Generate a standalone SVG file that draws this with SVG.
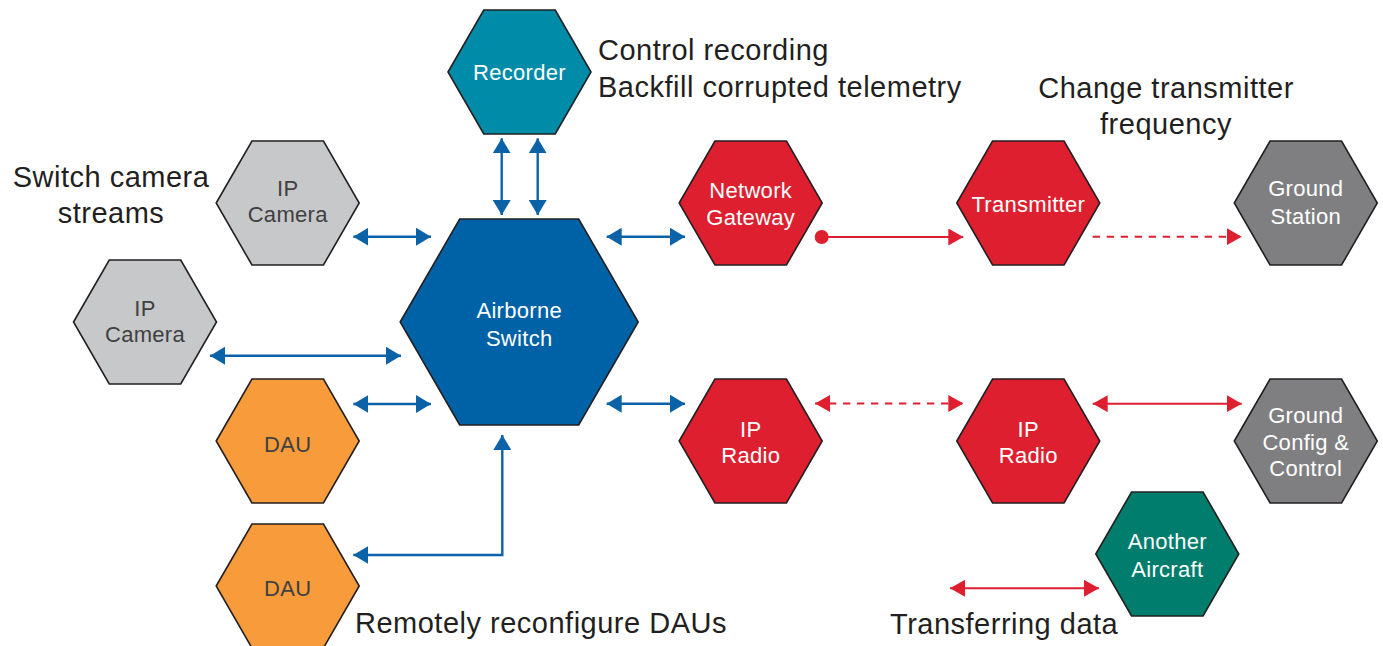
<svg xmlns="http://www.w3.org/2000/svg" width="1383" height="646" viewBox="0 0 1383 646">
<style>
.hex{stroke:#231F20;stroke-width:1.6;stroke-linejoin:miter}
.nt{font-family:"Liberation Sans",Arial,sans-serif;font-size:22px;letter-spacing:0.3px;text-anchor:middle}
.w{fill:#ffffff}
.d{fill:#404041}
.lbl{font-family:"Liberation Sans",Arial,sans-serif;font-size:29px;letter-spacing:0.5px;fill:#231F20}
.blue{stroke:#0B62A7;stroke-width:2.4;fill:none}
.red{stroke:#DD1F2F;stroke-width:2;fill:none}
.dash{stroke-dasharray:7.3 6.7}
</style>
<defs>
<marker id="ab" viewBox="0 0 15 18" refX="15" refY="9" markerWidth="15" markerHeight="18" markerUnits="userSpaceOnUse" orient="auto-start-reverse">
<path d="M0,0 L15,9 L0,18 z" fill="#0B62A7"/>
</marker>
<marker id="ar" viewBox="0 0 15 17" refX="15" refY="8.5" markerWidth="15" markerHeight="17" markerUnits="userSpaceOnUse" orient="auto-start-reverse">
<path d="M0,0 L15,8.5 L0,17 z" fill="#DD1F2F"/>
</marker>
</defs>
<rect width="1383" height="646" fill="#ffffff"/>

<g id="connectors">
<line class="blue" x1="501.7" y1="138.3" x2="501.7" y2="215" marker-start="url(#ab)" marker-end="url(#ab)"/>
<line class="blue" x1="537.7" y1="138.3" x2="537.7" y2="215" marker-start="url(#ab)" marker-end="url(#ab)"/>
<line class="blue" x1="353.3" y1="236.7" x2="431" y2="236.7" marker-start="url(#ab)" marker-end="url(#ab)"/>
<line class="blue" x1="210" y1="355.7" x2="401" y2="355.7" marker-start="url(#ab)" marker-end="url(#ab)"/>
<line class="blue" x1="353.3" y1="404" x2="431" y2="404" marker-start="url(#ab)" marker-end="url(#ab)"/>
<line class="blue" x1="606.7" y1="236.7" x2="685" y2="236.7" marker-start="url(#ab)" marker-end="url(#ab)"/>
<line class="blue" x1="606.7" y1="403.7" x2="685" y2="403.7" marker-start="url(#ab)" marker-end="url(#ab)"/>
<path class="blue" d="M353.3,555 H502.3 V435" marker-start="url(#ab)" marker-end="url(#ab)"/>
<circle cx="821.7" cy="237" r="7" fill="#DD1F2F"/>
<line class="red" x1="821.7" y1="237" x2="963.3" y2="237" marker-end="url(#ar)"/>
<line class="red dash" x1="1092.7" y1="236.7" x2="1241.7" y2="236.7" marker-end="url(#ar)"/>
<line class="red dash" x1="815" y1="403.5" x2="963.3" y2="403.5" marker-start="url(#ar)" marker-end="url(#ar)"/>
<line class="red" x1="1092.7" y1="403.7" x2="1241.7" y2="403.7" marker-start="url(#ar)" marker-end="url(#ar)"/>
<line class="red" x1="950" y1="588.3" x2="1099" y2="588.3" marker-start="url(#ar)" marker-end="url(#ar)"/>
</g>

<g id="recorder">
<polygon class="hex" fill="#008CA8" points="448,72 483.75,10 555.25,10 591,72 555.25,134 483.75,134"/>
<text class="nt w" x="519.5" y="80">Recorder</text>
</g>
<g id="ip-camera-1">
<polygon class="hex" fill="#C7C8CA" points="216.2,203 251.95,141 323.45,141 359.2,203 323.45,265 251.95,265"/>
<text class="nt d" x="287.7" y="196">IP</text>
<text class="nt d" x="287.7" y="222.3">Camera</text>
</g>
<g id="ip-camera-2">
<polygon class="hex" fill="#C7C8CA" points="73.5,322 109.25,260 180.75,260 216.5,322 180.75,384 109.25,384"/>
<text class="nt d" x="145" y="315.7">IP</text>
<text class="nt d" x="145" y="342">Camera</text>
</g>
<g id="airborne-switch">
<polygon class="hex" fill="#0062A6" points="400.2,322 459.7,219 578.7,219 638.2,322 578.7,425 459.7,425"/>
<text class="nt w" x="519.2" y="318.3">Airborne</text>
<text class="nt w" x="519.2" y="345.7">Switch</text>
</g>
<g id="dau-1">
<polygon class="hex" fill="#F89C3B" points="216.2,441 251.95,379 323.45,379 359.2,441 323.45,503 251.95,503"/>
<text class="nt d" x="287.7" y="451.7">DAU</text>
</g>
<g id="dau-2">
<polygon class="hex" fill="#F89C3B" points="216.2,586 251.95,524 323.45,524 359.2,586 323.45,648 251.95,648"/>
<text class="nt d" x="287.7" y="595.7">DAU</text>
</g>
<g id="network-gateway">
<polygon class="hex" fill="#DD1F2F" points="679.2,203 714.95,141 786.45,141 822.2,203 786.45,265 714.95,265"/>
<text class="nt w" x="750.7" y="198.3">Network</text>
<text class="nt w" x="750.7" y="225">Gateway</text>
</g>
<g id="transmitter">
<polygon class="hex" fill="#DD1F2F" points="956.8,203 992.55,141 1064.05,141 1099.8,203 1064.05,265 992.55,265"/>
<text class="nt w" x="1028.3" y="211.7">Transmitter</text>
</g>
<g id="ground-station">
<polygon class="hex" fill="#7F7F82" points="1234.3,203 1270.05,141 1341.55,141 1377.3,203 1341.55,265 1270.05,265"/>
<text class="nt w" x="1305.8" y="196">Ground</text>
<text class="nt w" x="1305.8" y="224">Station</text>
</g>
<g id="ip-radio-1">
<polygon class="hex" fill="#DD1F2F" points="679.2,441 714.95,379 786.45,379 822.2,441 786.45,503 714.95,503"/>
<text class="nt w" x="750.7" y="436.7">IP</text>
<text class="nt w" x="750.7" y="463.3">Radio</text>
</g>
<g id="ip-radio-2">
<polygon class="hex" fill="#DD1F2F" points="956.8,441 992.55,379 1064.05,379 1099.8,441 1064.05,503 992.55,503"/>
<text class="nt w" x="1028.3" y="436.7">IP</text>
<text class="nt w" x="1028.3" y="463.3">Radio</text>
</g>
<g id="ground-config">
<polygon class="hex" fill="#7F7F82" points="1234.3,441 1270.05,379 1341.55,379 1377.3,441 1341.55,503 1270.05,503"/>
<text class="nt w" x="1305.8" y="422.7">Ground</text>
<text class="nt w" x="1305.8" y="450">Config &amp;</text>
<text class="nt w" x="1305.8" y="476">Control</text>
</g>
<g id="another-aircraft">
<polygon class="hex" fill="#007D6C" points="1095.8,554 1131.55,492 1203.05,492 1238.8,554 1203.05,616 1131.55,616"/>
<text class="nt w" x="1167.3" y="549.3">Another</text>
<text class="nt w" x="1167.3" y="576.7">Aircraft</text>
</g>

<g id="labels">
<text class="lbl" x="598" y="60">Control recording</text>
<text class="lbl" x="598" y="97">Backfill corrupted telemetry</text>
<text class="lbl" x="1166" y="98" text-anchor="middle">Change transmitter</text>
<text class="lbl" x="1166" y="134" text-anchor="middle">frequency</text>
<text class="lbl" x="111" y="187" text-anchor="middle">Switch camera</text>
<text class="lbl" x="111" y="222.5" text-anchor="middle">streams</text>
<text class="lbl" x="355" y="633">Remotely reconfigure DAUs</text>
<text class="lbl" x="890" y="634">Transferring data</text>
</g>
</svg>
